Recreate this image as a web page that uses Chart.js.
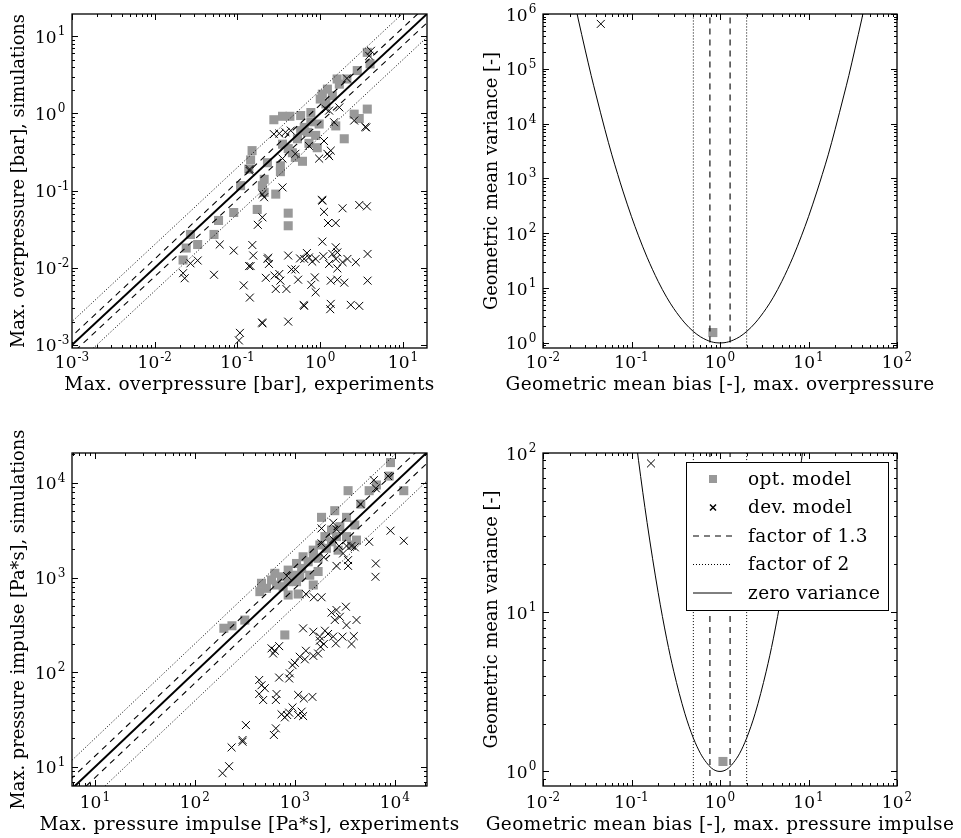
<!DOCTYPE html>
<html>
<head>
<meta charset="utf-8">
<title>Model evaluation</title>
<script src="https://cdn.jsdelivr.net/npm/chart.js@4.4.1/dist/chart.umd.min.js"></script>
<style>
  html, body { margin: 0; padding: 0; background: #fff; }
  #wrap { position: relative; width: 961px; height: 838px; }
  canvas { position: absolute; }
</style>
</head>
<body>
<div id="wrap">
  <canvas id="c1" width="480" height="419" style="left:0;top:0"></canvas>
  <canvas id="c2" width="481" height="419" style="left:480px;top:0"></canvas>
  <canvas id="c3" width="480" height="419" style="left:0;top:419px"></canvas>
  <canvas id="c4" width="481" height="419" style="left:480px;top:419px"></canvas>
</div>
<script>
// max. overpressure [bar]: experiments (x) vs simulations (y)
const opOptX = [3.7, 4.0, 2.8, 1.6, 2.1, 1.7, 1.22, 1.06, 1.4, 1.0, 1.17, 3.7, 0.77, 0.58, 0.43, 0.35, 0.275, 0.77, 0.97, 1.54, 2.57, 2.96, 1.95, 0.64, 0.58, 0.70, 0.88, 0.53, 0.73, 0.92, 0.35, 0.41, 0.46, 0.50, 0.61, 0.15, 0.144, 0.137, 0.23, 0.33, 0.33, 0.109, 0.21, 0.20, 0.29, 0.21, 0.173, 0.41, 0.41, 0.090, 0.059, 0.052, 0.027, 0.033, 0.024, 0.022];
const opOptY = [6.2, 4.4, 3.6, 2.8, 2.8, 2.4, 2.07, 1.78, 1.7, 1.54, 1.33, 1.14, 1.03, 0.94, 0.92, 0.92, 0.83, 0.78, 0.73, 0.69, 0.98, 0.86, 0.47, 0.66, 0.60, 0.57, 0.52, 0.47, 0.41, 0.36, 0.40, 0.35, 0.31, 0.27, 0.24, 0.33, 0.25, 0.19, 0.23, 0.21, 0.176, 0.116, 0.14, 0.116, 0.090, 0.095, 0.057, 0.051, 0.035, 0.052, 0.041, 0.027, 0.027, 0.020, 0.018, 0.0126];
const opDevX = [4.1, 3.9, 2.1, 1.17, 1.28, 1.7, 1.47, 2.57, 3.6, 3.5, 0.275, 0.32, 0.38, 0.44, 1.11, 0.73, 1.22, 1.34, 1.28, 0.97, 0.50, 0.35, 0.14, 0.14, 0.35, 0.20, 0.21, 0.20, 0.176, 0.061, 0.090, 0.151, 0.155, 0.144, 0.138, 0.23, 0.235, 0.24, 0.119, 0.141, 0.22, 0.28, 0.32, 0.33, 0.29, 0.39, 0.41, 0.45, 0.50, 0.54, 0.57, 0.64, 0.69, 0.73, 0.80, 0.88, 1.06, 1.09, 1.28, 1.40, 1.54, 1.61, 1.54, 1.61, 1.86, 2.13, 2.69, 3.73, 3.73, 1.06, 1.05, 1.11, 1.86, 2.96, 3.66, 1.24, 1.54, 0.86, 0.78, 0.88, 1.34, 1.61, 1.95, 0.64, 0.63, 1.34, 1.32, 2.34, 2.96, 0.20, 0.198, 0.41, 0.107, 0.104, 0.027, 0.033, 0.022, 0.023, 0.052];
const opDevY = [6.5, 5.6, 2.85, 1.14, 1.09, 1.2, 0.77, 0.81, 0.66, 0.67, 0.54, 0.55, 0.57, 0.60, 0.44, 0.38, 0.30, 0.33, 0.28, 0.26, 0.30, 0.26, 0.19, 0.18, 0.11, 0.090, 0.082, 0.045, 0.036, 0.020, 0.0167, 0.0197, 0.0144, 0.0105, 0.0105, 0.013, 0.0135, 0.0112, 0.0059, 0.0041, 0.0074, 0.0079, 0.0083, 0.0068, 0.0053, 0.0053, 0.0144, 0.0095, 0.0095, 0.0070, 0.0132, 0.0130, 0.0155, 0.0136, 0.0120, 0.0130, 0.0218, 0.0141, 0.0112, 0.0151, 0.0184, 0.0158, 0.0130, 0.0098, 0.0118, 0.0130, 0.0118, 0.0151, 0.0068, 0.074, 0.076, 0.053, 0.059, 0.065, 0.0625, 0.038, 0.038, 0.0075, 0.0060, 0.0048, 0.0068, 0.0070, 0.0064, 0.0032, 0.0033, 0.0034, 0.0029, 0.0033, 0.0032, 0.0019, 0.00195, 0.0020, 0.00143, 0.00114, 0.0114, 0.0124, 0.0085, 0.0073, 0.0081];

// max. pressure impulse [Pa*s]: experiments (x) vs simulations (y)
const imOptX = [9060, 8780, 12300, 3410, 5540, 6550, 4570, 2510, 1850, 3290, 3980, 2820, 2330, 2000, 2610, 3290, 4140, 3690, 2330, 1780, 1530, 2070, 2710, 1530, 1210, 1710, 1360, 1040, 1170, 1710, 858, 962, 631, 736, 585, 1120, 1040, 1410, 464, 521, 447, 656, 764, 858, 1530, 858, 1080, 316, 235, 195, 794];
const imOptY = [16400, 11800, 8280, 8280, 8280, 9510, 5980, 5090, 4330, 4330, 3590, 3450, 3180, 2710, 2710, 2710, 2490, 2210, 2390, 2210, 1950, 2040, 1950, 1730, 1660, 1600, 1470, 1410, 1250, 1160, 1200, 1060, 1110, 1020, 944, 1020, 906, 1060, 871, 771, 711, 836, 802, 906, 836, 655, 671, 356, 310, 292, 248];
const imDevX = [6170, 8570, 6460, 4540, 1850, 2420, 2610, 9060, 12300, 5540, 1850, 2420, 2770, 3290, 3690, 3980, 1950, 3040, 3410, 2610, 3410, 6460, 6410, 838, 1290, 1550, 1850, 2330, 2610, 3240, 2510, 2820, 4140, 3290, 1210, 1530, 2000, 2150, 2420, 3000, 3890, 1780, 1780, 1950, 1810, 2570, 3690, 1710, 1530, 1290, 1260, 1120, 1000, 948, 891, 878, 697, 585, 631, 607, 697, 440, 464, 501, 440, 482, 656, 646, 1080, 1230, 1500, 948, 736, 794, 838, 878, 1080, 1170, 1210, 646, 617, 324, 300, 300, 233, 220, 189];
const imDevY = [10700, 11800, 8770, 5980, 3310, 3800, 3240, 3130, 2450, 2390, 2300, 2540, 2160, 2160, 2160, 2090, 1640, 1800, 1530, 1330, 1330, 1410, 1020, 1040, 671, 620, 620, 427, 455, 493, 357, 386, 357, 315, 291, 268, 275, 254, 238, 238, 241, 238, 216, 199, 186, 202, 199, 158, 149, 169, 137, 146, 126, 119, 97.5, 86, 88, 179, 169, 158, 189, 83, 73, 68, 59, 51, 59, 51, 57.6, 53, 55, 42.6, 36, 33.4, 35.4, 37.5, 35.4, 38.4, 34.5, 25.6, 21.8, 27.7, 19.3, 18.5, 16.1, 10.2, 8.6];

// geometric mean bias (x) and variance (y) of each model
const mgOpOptX = [0.83], mgOpOptY = [1.55];
const mgOpDevX = [0.045], mgOpDevY = [6.6e5];
const mgImOptX = [1.08], mgImOptY = [1.155];
const mgImDevX = [0.166], mgImDevY = [86];

// zero variance parabola
const zvX = [0.02, 0.025, 0.03, 0.035, 0.04, 0.05, 0.06, 0.07, 0.08, 0.1, 0.12, 0.15, 0.2, 0.25, 0.3, 0.4, 0.5, 0.6, 0.7, 0.8, 0.9, 1, 1.11, 1.25, 1.43, 1.67, 2, 2.5, 3.33, 4, 5, 6.67, 8.33, 10, 12.5, 14.3, 16.7, 20, 25, 28.6, 33.3, 40, 50];
const zvY = [4.4e6, 8.1e5, 2.2e5, 7.6e4, 3.2e4, 7.9e3, 2.7e3, 1.18e3, 590, 201, 90, 36.6, 13.3, 6.8, 4.26, 2.32, 1.62, 1.30, 1.14, 1.05, 1.01, 1, 1.01, 1.05, 1.14, 1.30, 1.62, 2.32, 4.26, 6.8, 13.3, 36.6, 90, 201, 590, 1.18e3, 2.7e3, 7.9e3, 3.2e4, 7.6e4, 2.2e5, 8.1e5, 4.4e6];

const factors = [1.3, 2];

// tick label exponents
const opTicks = [-3, -2, -1, 0, 1];
const imTicks = [1, 2, 3, 4];
const mgTicks = [-2, -1, 0, 1, 2];
const vgOpTicks = [0, 1, 2, 3, 4, 5, 6];
const vgImTicks = [0, 1, 2];

const FONT = '"DejaVu Serif", serif';
const TEXT = '18.5px ' + FONT;
const VTEXT = '17.8px ' + FONT;
const GREY = '#999999';
const DASH = [6, 5];
const DOT = [1, 2];

const pts = (xs, ys) => xs.map((v, i) => ({ x: v, y: ys[i] }));

function optSet(xs, ys) {
  return { label: 'opt. model', data: pts(xs, ys), pointStyle: 'rect', pointRadius: 6.4,
    pointBackgroundColor: GREY, pointBorderWidth: 0, order: 3 };
}
function devSet(xs, ys) {
  return { label: 'dev. model', data: pts(xs, ys), pointStyle: 'crossRot', pointRadius: 5.6,
    pointBorderColor: '#000', pointBorderWidth: 1, order: 2 };
}
function lineSet(data, dash, w, label) {
  return { label, data, showLine: true, pointRadius: 0, borderColor: '#000',
    borderWidth: w, borderDash: dash, order: 1 };
}

// y = f*x reference lines
const diagEnds = [1e-5, 1e6];
function diagonals() {
  const at = f => diagEnds.map(v => ({ x: v, y: v * f }));
  return [
    lineSet(at(1), [], 2),
    lineSet(at(factors[0]), DASH, 1.1), lineSet(at(1 / factors[0]), DASH, 1.1),
    lineSet(at(factors[1]), DOT, 1), lineSet(at(1 / factors[1]), DOT, 1)
  ];
}
// bias limits as vertical lines
function verticals() {
  const at = v => [{ x: v, y: 1e-3 }, { x: v, y: 1e9 }];
  return [
    lineSet(at(1 / factors[0]), DASH, 1.1, 'factor of 1.3'), lineSet(at(factors[0]), DASH, 1.1),
    lineSet(at(1 / factors[1]), DOT, 1, 'factor of 2'), lineSet(at(factors[1]), DOT, 1)
  ];
}
function zeroVar() {
  const s = lineSet(pts(zvX, zvY), [], 1, 'zero variance');
  s.cubicInterpolationMode = 'monotone';
  return s;
}

function logTicks(s) {
  const out = [];
  const e0 = Math.floor(Math.log10(s.min)), e1 = Math.ceil(Math.log10(s.max));
  for (let e = e0; e <= e1; e++) {
    for (let m = 1; m < 10; m++) {
      const v = m * Math.pow(10, e);
      if (v >= s.min * 0.999 && v <= s.max * 1.001) out.push({ p: s.getPixelForValue(v), major: m === 1 });
    }
  }
  return out;
}

function powLabel(ctx, e, x, y, centred) {
  const sup = String(e);
  ctx.font = '17px ' + FONT;
  const w1 = ctx.measureText('10').width;
  ctx.font = '12px ' + FONT;
  const w2 = ctx.measureText(sup).width;
  const x0 = centred ? x - (w1 + 1 + w2) / 2 : x;
  ctx.font = '17px ' + FONT;
  ctx.fillText('10', x0, y);
  ctx.font = '12px ' + FONT;
  ctx.fillText(sup, x0 + w1 + 1, y - 7.5);
}

// frame, inward ticks on all sides, tick labels and axis titles
const decor = {
  id: 'decor',
  afterDatasetsDraw(chart, args, o) {
    const { ctx, chartArea: a } = chart;
    const sx = chart.scales.x, sy = chart.scales.y;
    ctx.save();
    ctx.strokeStyle = '#000';
    ctx.lineWidth = 1;
    ctx.beginPath();
    for (const t of logTicks(sx)) {
      const p = Math.round(t.p) + 0.5, l = t.major ? 6 : 3;
      ctx.moveTo(p, a.bottom); ctx.lineTo(p, a.bottom - l);
      ctx.moveTo(p, a.top); ctx.lineTo(p, a.top + l);
    }
    for (const t of logTicks(sy)) {
      const p = Math.round(t.p) + 0.5, l = t.major ? 6 : 3;
      ctx.moveTo(a.left, p); ctx.lineTo(a.left + l, p);
      ctx.moveTo(a.right, p); ctx.lineTo(a.right - l, p);
    }
    ctx.stroke();
    ctx.lineWidth = 1.3;
    ctx.strokeRect(a.left, a.top, a.right - a.left, a.bottom - a.top);

    ctx.fillStyle = '#000';
    ctx.textAlign = 'left';
    ctx.textBaseline = 'alphabetic';
    o.xt.forEach(e => powLabel(ctx, e, sx.getPixelForValue(Math.pow(10, e)), a.bottom + o.tickOff, true));
    o.yt.forEach(e => powLabel(ctx, e, a.left - 37, sy.getPixelForValue(Math.pow(10, e)) + 6.5, false));

    ctx.textAlign = 'center';
    ctx.font = TEXT;
    ctx.letterSpacing = '0.4px';
    ctx.fillText(o.xTitle, (a.left + a.right) / 2, a.bottom + o.titleOff);
    ctx.font = VTEXT;
    ctx.letterSpacing = '0px';
    ctx.translate(o.yTitleX, (a.top + a.bottom) / 2);
    ctx.rotate(-Math.PI / 2);
    ctx.fillText(o.yTitle, 0, 0);
    ctx.restore();
  }
};

// framed legend in the upper right corner of the plot area
const legendBox = {
  id: 'legendBox',
  afterDatasetsDraw(chart, args, o) {
    const { ctx, chartArea: a } = chart;
    const w = 202, h = 148, bx = a.right - 9 - w, by = a.top + 9;
    ctx.save();
    ctx.fillStyle = '#fff';
    ctx.fillRect(bx, by, w, h);
    ctx.strokeStyle = '#000';
    ctx.lineWidth = 1;
    ctx.strokeRect(bx + 0.5, by + 0.5, w, h);
    const items = chart.data.datasets.filter(d => d.label);
    items.forEach((d, i) => {
      const cy = by + 17 + i * 28.5;
      if (d.showLine) {
        ctx.beginPath();
        ctx.setLineDash(d.borderDash || []);
        ctx.lineWidth = d.borderWidth;
        ctx.moveTo(bx + 7, cy); ctx.lineTo(bx + 46, cy);
        ctx.stroke();
        ctx.setLineDash([]);
      } else if (d.pointStyle === 'rect') {
        ctx.fillStyle = GREY;
        ctx.fillRect(bx + 23, cy - 4, 8, 8);
      } else {
        ctx.lineWidth = 1.5;
        ctx.beginPath();
        ctx.moveTo(bx + 24, cy - 3); ctx.lineTo(bx + 30, cy + 3);
        ctx.moveTo(bx + 24, cy + 3); ctx.lineTo(bx + 30, cy - 3);
        ctx.stroke();
      }
      ctx.fillStyle = '#000';
      ctx.font = TEXT;
      ctx.letterSpacing = '0.4px';
      ctx.textAlign = 'left';
      ctx.fillText(d.label, bx + 62, cy + 5.5);
    });
    ctx.restore();
  }
};

function logAxis(range, size, horiz) {
  return {
    type: 'logarithmic', min: range[0], max: range[1],
    grid: { display: false }, border: { display: false },
    ticks: { display: false },
    afterFit: s => { if (horiz) s.height = size; else s.width = size; }
  };
}

function makeChart(id, c) {
  return new Chart(document.getElementById(id), {
    type: 'scatter',
    data: { datasets: c.sets },
    options: {
      responsive: false, animation: false, events: [],
      layout: { padding: c.pad },
      scales: { x: logAxis(c.xr, c.xh, true), y: logAxis(c.yr, c.yw, false) },
      plugins: {
        legend: { display: false }, tooltip: { enabled: false },
        decor: c.decor,
        legendBox: c.legend ? {} : false
      }
    },
    plugins: [decor, legendBox]
  });
}

makeChart('c1', {
  sets: [optSet(opOptX, opOptY), devSet(opDevX, opDevY), ...diagonals()],
  pad: { left: 0, top: 14, right: 53, bottom: 0 }, xh: 71, yw: 72,
  xr: [1e-3, 19.5], yr: [9.1e-4, 19.5],
  decor: { xt: opTicks, yt: opTicks, tickOff: 20, titleOff: 42, yTitleX: 23.5,
    xTitle: 'Max. overpressure [bar], experiments', yTitle: 'Max. overpressure [bar], simulations' }
});
makeChart('c2', {
  sets: [optSet(mgOpOptX, mgOpOptY), devSet(mgOpDevX, mgOpDevY), ...verticals(), zeroVar()],
  pad: { left: 0, top: 14, right: 64, bottom: 0 }, xh: 71, yw: 63,
  xr: [1e-2, 1e2], yr: [0.81, 1e6],
  decor: { xt: mgTicks, yt: vgOpTicks, tickOff: 20, titleOff: 42, yTitleX: 16.7,
    xTitle: 'Geometric mean bias [-], max. overpressure', yTitle: 'Geometric mean variance [-]' }
});
makeChart('c3', {
  sets: [optSet(imOptX, imOptY), devSet(imDevX, imDevY), ...diagonals()],
  pad: { left: 0, top: 34, right: 53, bottom: 0 }, xh: 52, yw: 72,
  xr: [5.9, 2.1e4], yr: [6.3, 2.07e4],
  decor: { xt: imTicks, yt: imTicks, tickOff: 22, titleOff: 44, yTitleX: 23.5,
    xTitle: 'Max. pressure impulse [Pa*s], experiments', yTitle: 'Max. pressure impulse [Pa*s], simulations' }
});
makeChart('c4', {
  sets: [optSet(mgImOptX, mgImOptY), devSet(mgImDevX, mgImDevY), ...verticals(), zeroVar()],
  pad: { left: 0, top: 34, right: 64, bottom: 0 }, xh: 52, yw: 63,
  xr: [1e-2, 1e2], yr: [0.81, 100],
  legend: true,
  decor: { xt: mgTicks, yt: vgImTicks, tickOff: 22, titleOff: 44, yTitleX: 16.7,
    xTitle: 'Geometric mean bias [-], max. pressure impulse', yTitle: 'Geometric mean variance [-]' }
});
</script>
</body>
</html>
